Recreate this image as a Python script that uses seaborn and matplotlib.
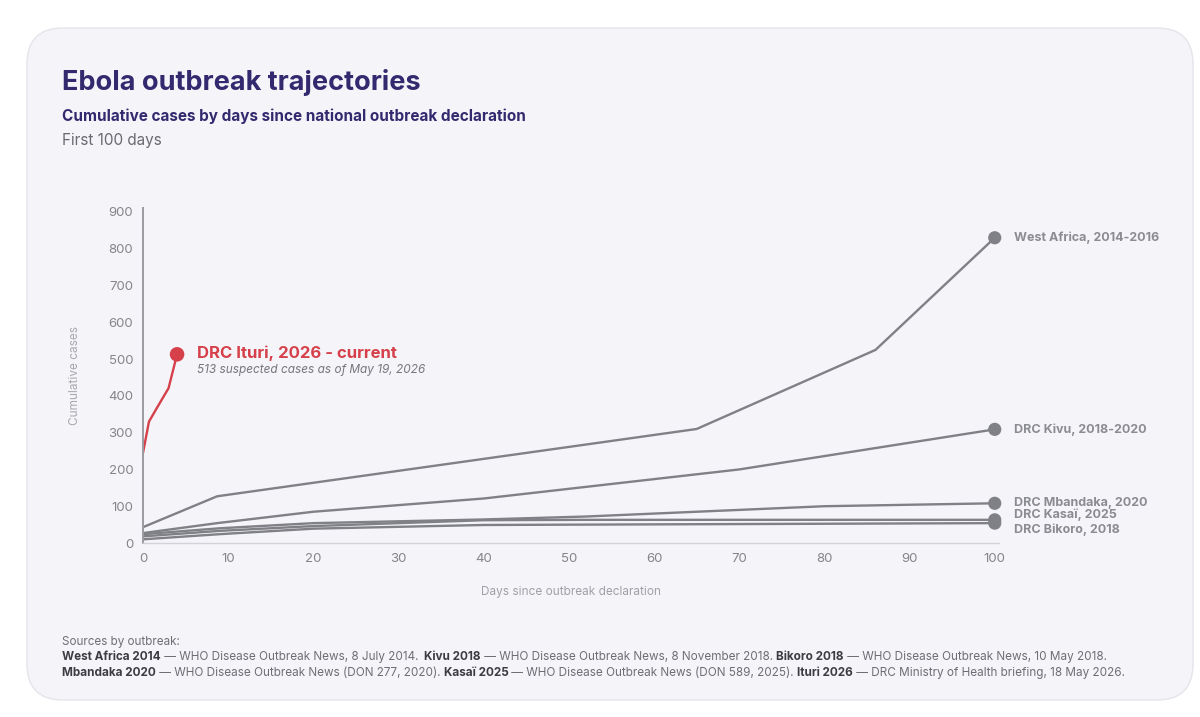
import numpy as np
import pandas as pd
import matplotlib.pyplot as plt
import seaborn as sns
from matplotlib.patches import FancyBboxPatch

# data
wa_days = [0, 8.7, 65, 86, 100]
wa_cases = [43, 127, 310, 525, 830]

kivu_days = [0, 8.7, 20, 40, 70, 100]
kivu_cases = [27, 54, 85, 121, 200, 309]

mbandaka_days = [0, 9, 20, 40, 52, 80, 100]
mbandaka_cases = [24, 40, 54, 64, 72, 100, 108]

kasai_days = [0, 9, 20, 40, 52, 100]
kasai_cases = [18, 33, 46, 62, 63, 63]

bikoro_days = [0, 9, 20, 40, 52, 100]
bikoro_cases = [10, 24, 39, 49, 50, 54]

ituri_days = [0, 0.7, 1.6, 3.0, 4.0]
ituri_cases = [245, 330, 366, 421, 513]

names = ["West Africa, 2014-2016", "DRC Kivu, 2018-2020", "DRC Mbandaka, 2020",
         "DRC Kasaï, 2025", "DRC Bikoro, 2018", "DRC Ituri, 2026 - current"]
label_offsets = [0, 0, 0, 3.5, -4.5, 0]  # points, to keep the three bottom labels apart

series = [(wa_days, wa_cases), (kivu_days, kivu_cases), (mbandaka_days, mbandaka_cases),
          (kasai_days, kasai_cases), (bikoro_days, bikoro_cases), (ituri_days, ituri_cases)]

rows = []
for name, (d, c) in zip(names, series):
    for x, y in zip(d, c):
        rows.append({"outbreak": name, "day": x, "cases": y})
df = pd.DataFrame(rows)
last = df.groupby("outbreak", sort=False).tail(1)

GREY = "#808087"
RED = "#d6404a"
palette = {n: GREY for n in names}
palette[names[-1]] = RED

sns.set_theme(style="white")
plt.rcParams['font.family'] = ['Inter', 'DejaVu Sans']

fig = plt.figure(figsize=(12, 7.17), dpi=100)
fig.patch.set_facecolor("white")

W, H = 1200, 717
card = FancyBboxPatch((27 / W, 1 - 700 / H), 1166 / W, 672 / H,
                      boxstyle="round,pad=0,rounding_size=0.03",
                      transform=fig.transFigure, facecolor="#f4f4f9",
                      edgecolor="#e4e4ea", linewidth=1, zorder=-5,
                      mutation_aspect=W / H)
fig.patches.append(card)

ax = fig.add_axes([143 / W, 1 - 543 / H, 856 / W, (331 / H) * 910 / 900])
ax.set_zorder(2)
ax.set_facecolor("none")

sns.lineplot(data=df, x="day", y="cases", hue="outbreak", palette=palette,
             linewidth=1.7, legend=False, ax=ax, sort=False, estimator=None)
sns.scatterplot(data=last[last.outbreak != names[-1]], x="day", y="cases",
                color=GREY, s=90, edgecolor="none", legend=False, ax=ax, zorder=5)
sns.scatterplot(data=last[last.outbreak == names[-1]], x="day", y="cases",
                color=RED, s=110, edgecolor="none", legend=False, ax=ax, zorder=5)
for coll in ax.collections:
    coll.set_clip_on(False)

ax.set_xlim(0, 100.5)
ax.set_ylim(0, 910)
ax.set_xticks(np.arange(0, 101, 10))
ax.set_yticks(np.arange(0, 901, 100))
ax.tick_params(axis="both", length=0, labelsize=9.5, labelcolor="#858589", pad=7)
for s in ["top", "right"]:
    ax.spines[s].set_visible(False)
ax.spines["left"].set_color("#9a9aa0")
ax.spines["left"].set_linewidth(1.4)
ax.spines["bottom"].set_color("#d2d2d8")
ax.spines["bottom"].set_linewidth(1.0)
ax.set_xlabel("Days since outbreak declaration", fontsize=8.5, color="#a0a0a6", labelpad=15)
ax.set_ylabel("Cumulative cases", fontsize=8.5, color="#a8a8ae", labelpad=20)

# end labels
for name, off, (_, r) in zip(names[:-1], label_offsets, last.iloc[:-1].iterrows()):
    ax.annotate(name, (r.day, r.cases), xytext=(14, off), textcoords="offset points",
                va="center", ha="left", fontsize=9, fontweight="bold", color="#8b8b92",
                annotation_clip=False)

ax.annotate(names[-1], (ituri_days[-1], ituri_cases[-1]), xytext=(14, 1),
            textcoords="offset points", va="center", ha="left", fontsize=12,
            fontweight="bold", color=RED, annotation_clip=False)
ax.annotate("513 suspected cases as of May 19, 2026", (ituri_days[-1], ituri_cases[-1]),
            xytext=(14, -11.5), textcoords="offset points", va="center", ha="left",
            fontsize=8.5, style="italic", color="#76767c", annotation_clip=False)

# headings
TITLE_C = "#33296e"
fig.text(62 / W, 1 - 90 / H, "Ebola outbreak trajectories", fontsize=19.5,
         fontweight="bold", color=TITLE_C, va="baseline")
fig.text(62 / W, 1 - 121 / H, "Cumulative cases by days since national outbreak declaration",
         fontsize=11, fontweight="bold", color=TITLE_C, va="baseline")
fig.text(62 / W, 1 - 145 / H, "First 100 days", fontsize=11, color="#6a6a70", va="baseline")

# sources footer, mixed bold / regular
FOOT_C = "#6e6e74"
fig.text(62 / W, 1 - 645 / H, "Sources by outbreak:", fontsize=8.4, color=FOOT_C, va="baseline")
line1 = [("West Africa 2014", True), (" — WHO Disease Outbreak News, 8 July 2014.  ", False),
         ("Kivu 2018", True), (" — WHO Disease Outbreak News, 8 November 2018. ", False),
         ("Bikoro 2018", True), (" — WHO Disease Outbreak News, 10 May 2018.", False)]
line2 = [("Mbandaka 2020", True), (" — WHO Disease Outbreak News (DON 277, 2020). ", False),
         ("Kasaï 2025", True), (" — WHO Disease Outbreak News (DON 589, 2025). ", False),
         ("Ituri 2026", True), (" — DRC Ministry of Health briefing, 18 May 2026.", False)]

renderer = fig.canvas.get_renderer()
for ypx, parts in [(660, line1), (676, line2)]:
    x = 62 / W
    for txt, bold in parts:
        t = fig.text(x, 1 - ypx / H, txt, fontsize=8.45, va="baseline",
                     fontweight="bold" if bold else "normal",
                     color="#3c3c42" if bold else FOOT_C)
        x += t.get_window_extent(renderer).width / (W)

fig.savefig("out.png", dpi=100, facecolor=fig.get_facecolor())
